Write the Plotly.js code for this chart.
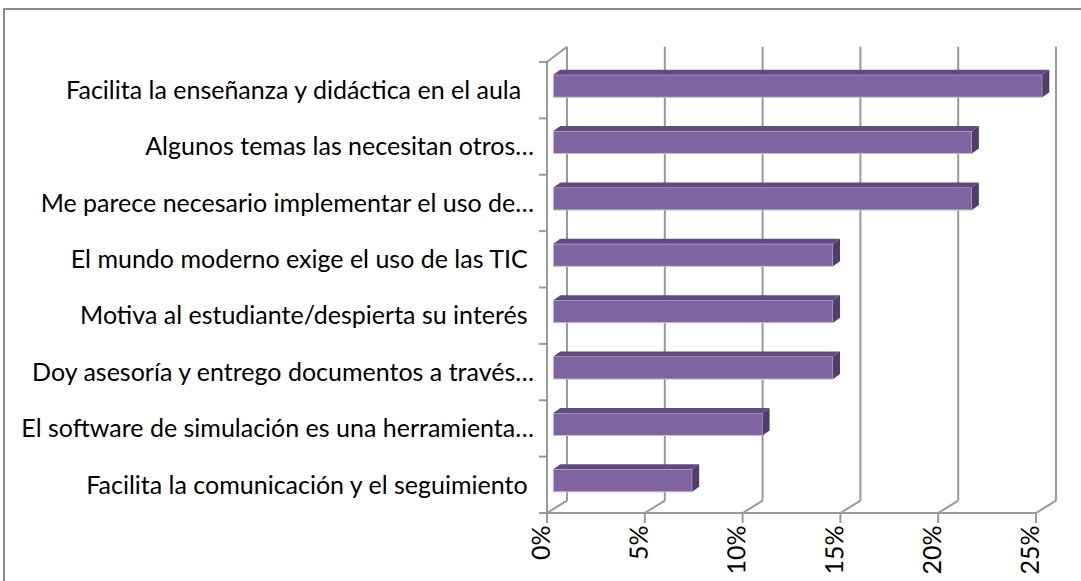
<!DOCTYPE html>
<html><head><meta charset="utf-8">
<script src="https://cdn.plot.ly/plotly-3.0.1.min.js"></script>
<style>html,body{margin:0;padding:0;background:#fff;} #chart{width:1081px;height:581px;}</style>
</head><body><div id="chart"></div>
<script>
// ---- data ----
const categories = [
  "Facilita la enseñanza y didáctica en el aula",
  "Algunos temas las necesitan otros…",
  "Me parece necesario implementar el uso de…",
  "El mundo moderno exige el uso de las TIC",
  "Motiva al estudiante/despierta su interés",
  "Doy asesoría y entrego documentos a través…",
  "El software de simulación es una herramienta…",
  "Facilita la comunicación y el seguimiento"
];
const values = [25.0, 21.4, 21.4, 14.3, 14.3, 14.3, 10.7, 7.1];
const tickValues = [0, 5, 10, 15, 20, 25];
const tickLabels = ["0%", "5%", "10%", "15%", "20%", "25%"];
const labelTrail = [2, 0, 0, 1, 1, 0, 0, 1]; // trailing spaces in original labels

// ---- geometry ----
const W = 1081, H = 581, ML = 535, MB = 58;
const PW = W - ML, PH = H - MB;
const X0 = 553.3, PXU = 19.56;   // bar plane: pixel of 0%, px per 1%
const Y0 = 90.19, PYU = 56.375;  // centre of first category band, px per category
const FRONT = -6.3, BACK = 13.7; // x offsets of front / back planes
const LABEL_SHIFT = -16;         // rotated tick labels sit on the front plane
const FRONT_Y = 513, BACK_Y = 500.7, TOP_Y = 46.7, WALL_TOP = 62;
const xr = [(ML - X0) / PXU, (W - X0) / PXU];
const yr = [(PH - Y0) / PYU, (0 - Y0) / PYU];
const px = p => (p - ML) / PW;
const py = p => (PH - p) / PH;
const vx = v => X0 + PXU * v;

const GRID = {color: '#999999', width: 2};
const shapes = [];
function line(x0, y0, x1, y1) {
  shapes.push({type: 'line', xref: 'paper', yref: 'paper', x0: px(x0), y0: py(y0), x1: px(x1), y1: py(y1), line: GRID, layer: 'below'});
}
// back gridlines + floor diagonals + front ticks
tickValues.forEach(v => {
  const b = vx(v) + BACK, f = vx(v) + FRONT;
  line(b, TOP_Y, b, BACK_Y);
  line(f, FRONT_Y, b, BACK_Y);
  line(f, FRONT_Y, f, FRONT_Y + 10);
});
// front floor edge
line(vx(0) + FRONT, FRONT_Y, vx(tickValues[tickValues.length - 1]) + FRONT, FRONT_Y);
// left wall
line(vx(0) + FRONT, WALL_TOP, vx(0) + FRONT, FRONT_Y);
line(vx(0) + FRONT, WALL_TOP, vx(0) + BACK, TOP_Y);
const step = (FRONT_Y - WALL_TOP) / categories.length;
for (let k = 0; k <= categories.length; k++) {
  const y = WALL_TOP + step * k;
  line(vx(0) + FRONT - 8, y, vx(0) + FRONT, y);
}
// outer chart border
shapes.push({type: 'rect', xref: 'paper', yref: 'paper', x0: px(4), x1: px(1100), y0: py(9), y1: py(600),
  line: {color: '#8a8a8a', width: 2}, fillcolor: 'rgba(0,0,0,0)', layer: 'below'});

// 3D faces of the bars
const BW = 0.40, BOFF = -0.275;
const DX = 7 / PXU, DY = -5 / PYU;
values.forEach((v, i) => {
  const yt = i + BOFF, yb = yt + BW;
  shapes.push({type: 'path', xref: 'x', yref: 'y', layer: 'above', line: {width: 0}, fillcolor: '#5f4b7f',
    path: `M0,${yt} L${DX},${yt + DY} L${v + DX},${yt + DY} L${v},${yt} Z`});
  shapes.push({type: 'path', xref: 'x', yref: 'y', layer: 'above', line: {width: 0}, fillcolor: '#4f3e6c',
    path: `M${v},${yt} L${v + DX},${yt + DY} L${v + DX},${yb + DY} L${v},${yb} Z`});
});

const trace = {
  type: 'bar', orientation: 'h',
  x: values, y: categories.map((_, i) => i),
  width: BW, offset: BOFF,
  marker: {color: '#7f64a1', line: {color: '#cbbfdd', width: 1}},
  text: categories, hovertemplate: '%{text}: %{x}%<extra></extra>', textposition: 'none'
};

const layout = {
  width: W, height: H,
  margin: {l: ML, r: 0, t: 0, b: MB, pad: 0},
  paper_bgcolor: '#ffffff', plot_bgcolor: 'rgba(0,0,0,0)',
  showlegend: false,
  font: {family: 'Lato, "Liberation Sans", sans-serif', color: '#000000'},
  xaxis: {range: xr, fixedrange: true, showgrid: false, zeroline: false, showline: false,
    tickmode: 'array', tickvals: tickValues.map(v => v + LABEL_SHIFT / PXU), ticktext: tickLabels,
    tickangle: -89.9, ticks: '', ticklabelstandoff: -11, tickfont: {size: 25}},
  yaxis: {range: yr, fixedrange: true, showgrid: false, zeroline: false, showline: false,
    tickmode: 'array', tickvals: categories.map((_, i) => i),
    ticktext: categories.map((c, i) => c + '\u00a0'.repeat(labelTrail[i])),
    ticks: '', ticklabelstandoff: 0, tickfont: {size: 25}},
  shapes: shapes
};
Plotly.newPlot('chart', [trace], layout, {displayModeBar: false, staticPlot: false});
</script></body></html>
